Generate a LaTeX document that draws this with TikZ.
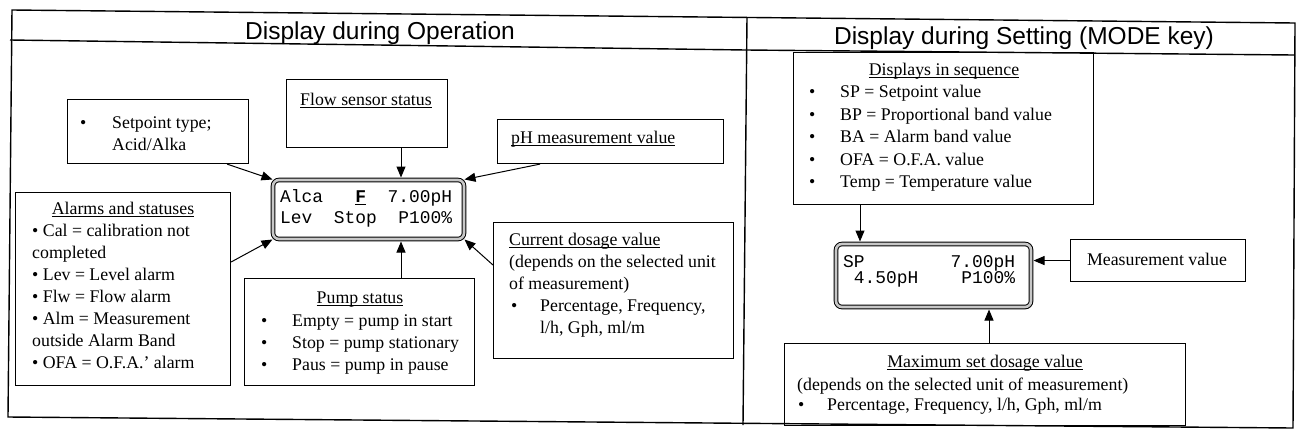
\documentclass[tikz,border=0pt]{standalone}
\usepackage{fontspec}
\setmainfont{Liberation Serif}
\newfontfamily\headfont{Liberation Sans}
\newfontfamily\lcdfont{Liberation Mono}
\usetikzlibrary{arrows.meta,calc}
% underline drawn just below the baseline
\newcommand\ulx[1]{\setbox0\hbox{#1}\rlap{\rule[-2.4pt]{\wd0}{0.8pt}}\box0}

\begin{document}
\begin{tikzpicture}[x=1pt,y=-1pt,
  box/.style={draw, line width=1.1pt, anchor=north west, inner sep=0pt},
  lcd/.style={draw, line width=1pt, double=black!22, double distance=2.6pt,
              rounded corners=6pt, anchor=north west, inner sep=0pt},
  txt/.style={inner sep=0pt, anchor=base west, font=\fontsize{17.8}{22}\selectfont},
  ctxt/.style={txt, anchor=base},
  lcdtxt/.style={inner sep=0pt, anchor=base west, font=\lcdfont\fontsize{17.9}{20}\selectfont},
  head/.style={inner sep=0pt, anchor=base, font=\headfont\fontsize{24.5}{28}\selectfont},
  arr/.style={line width=1pt, -{Triangle[length=11pt,width=9pt]}},
  frame/.style={line width=1.4pt}]

\useasboundingbox (0,0) rectangle (1296,432);

% outer frame, header rule and panel divider
\draw[frame] (12,10) -- (1295,23) -- (1293,428) -- (8,417) -- cycle;
\draw[frame] (10,40) -- (746,50) -- (1294,55);
\draw[frame] (747,17) -- (743,425);

\node[head] (t1) at (380,39) {Display during Operation};
\node[head] (t2) at (1024,44) {Display during Setting (MODE key)};

% ---------- operation panel ----------
\node[lcd, minimum width=191pt, minimum height=59pt] (lcd1) at (272.5,179.5) {};
\node[lcdtxt] (l1a) at (280,202) {Alca\ \ \ \ulx{\bfseries F}\ \ 7.00pH};
\node[lcdtxt] (l1b) at (280,223) {Lev\ \ Stop\ \ P100\%};

\node[box, minimum width=181pt, minimum height=64pt] (setp) at (67,99) {};
\node[txt] (s0) at (80,128) {•};
\node[txt] (s1) at (112,128) {Setpoint type;};
\node[txt] (s2) at (112,150) {Acid/Alka};

\node[box, minimum width=161pt, minimum height=68pt] (flow) at (286,79) {};
\node[ctxt] (f1) at (366,105) {\ulx{Flow sensor status}};

\node[box, minimum width=226pt, minimum height=44pt] (ph) at (497,119) {};
\node[txt] (p1) at (511,143) {\ulx{pH measurement value}};

\node[box, minimum width=215pt, minimum height=193pt] (alarms) at (15,192) {};
\node[ctxt] (a0) at (123,214) {\ulx{Alarms and statuses}};
\node[txt] (a1) at (32,236) {• Cal = calibration not};
\node[txt] (a2) at (32,258) {completed};
\node[txt] (a3) at (32,280) {• Lev = Level alarm};
\node[txt] (a4) at (32,302) {• Flw = Flow alarm};
\node[txt] (a5) at (32,324) {• Alm = Measurement};
\node[txt] (a6) at (32,346) {outside Alarm Band};
\node[txt] (a7) at (32,368) {• OFA = O.F.A.' alarm};

\node[box, minimum width=230pt, minimum height=107pt] (pump) at (244,278) {};
\node[ctxt] (u0) at (360,303) {\ulx{Pump status}};
\node[txt] (ub1) at (261,326) {•};
\node[txt] (u1) at (292,326) {Empty = pump in start};
\node[txt] (ub2) at (261,348) {•};
\node[txt] (u2) at (292,348) {Stop = pump stationary};
\node[txt] (ub3) at (261,370) {•};
\node[txt] (u3) at (292,370) {Paus = pump in pause};

\node[box, minimum width=240pt, minimum height=136pt] (cur) at (493,222) {};
\node[txt] (c0) at (509,245) {\ulx{Current dosage value}};
\node[txt] (c1) at (509,267) {(depends on the selected unit};
\node[txt] (c2) at (509,289) {of measurement)};
\node[txt] (cb) at (511,311) {•};
\node[txt] (c3) at (540,311) {Percentage, Frequency,};
\node[txt] (c4) at (540,333) {l/h, Gph, ml/m};

\coordinate (fx) at (401,0);
\draw[arr] ([xshift=-22pt]setp.south east) -- (lcd1.north west);
\draw[arr] (flow.south -| fx) -- ([yshift=2pt]lcd1.north -| fx);
\draw[arr] ([xshift=43pt]ph.south west) -- (lcd1.north east);
\draw[arr] ([yshift=-70pt]alarms.north east) -- (lcd1.south west);
\draw[arr] (pump.north -| fx) -- ([yshift=-2pt]lcd1.south -| fx);
\draw[arr] ([yshift=-43pt]cur.north west) -- (lcd1.south east);

% ---------- setting panel ----------
\node[lcd, minimum width=195pt, minimum height=63pt] (lcd2) at (835.5,243.5) {};
\node[lcdtxt] (l2a) at (843,267) {SP\ \ \ \ \ \ \ \ 7.00pH};
\node[lcdtxt] (l2b) at (843,283) {\ 4.50pH\ \ \ \ P100\%};

\node[box, minimum width=300pt, minimum height=152pt] (disp) at (793,52) {};
\node[ctxt] (d0) at (944,75) {\ulx{Displays in sequence}};
\node[txt] (db1) at (809,97.5) {•};
\node[txt] (d1) at (840,97.5) {SP = Setpoint value};
\node[txt] (db2) at (809,120) {•};
\node[txt] (d2) at (840,120) {BP = Proportional band value};
\node[txt] (db3) at (809,142.5) {•};
\node[txt] (d3) at (840,142.5) {BA = Alarm band value};
\node[txt] (db4) at (809,165) {•};
\node[txt] (d4) at (840,165) {OFA = O.F.A. value};
\node[txt] (db5) at (809,187.5) {•};
\node[txt] (d5) at (840,187.5) {Temp = Temperature value};

\node[box, minimum width=175pt, minimum height=42pt] (meas) at (1070,239) {};
\node[ctxt] (m1) at (1157,265) {Measurement value};

\node[box, minimum width=401pt, minimum height=82pt] (maxb) at (784,343) {};
\node[ctxt] (x0) at (985,367) {\ulx{Maximum set dosage value}};
\node[txt] (x1) at (797,390) {(depends on the selected unit of measurement)};
\node[txt] (xb) at (798,410) {•};
\node[txt] (x2) at (827,410) {Percentage, Frequency, l/h, Gph, ml/m};

\coordinate (dx) at (860,0);
\coordinate (mx) at (989,0);
\draw[arr] (disp.south -| dx) -- ([yshift=2pt]lcd2.north -| dx);
\draw[arr] (meas.west) -- ([xshift=2pt]meas.west -| lcd2.east);
\draw[arr] (maxb.north -| mx) -- ([yshift=-2pt]lcd2.south -| mx);
\end{tikzpicture}
\end{document}
